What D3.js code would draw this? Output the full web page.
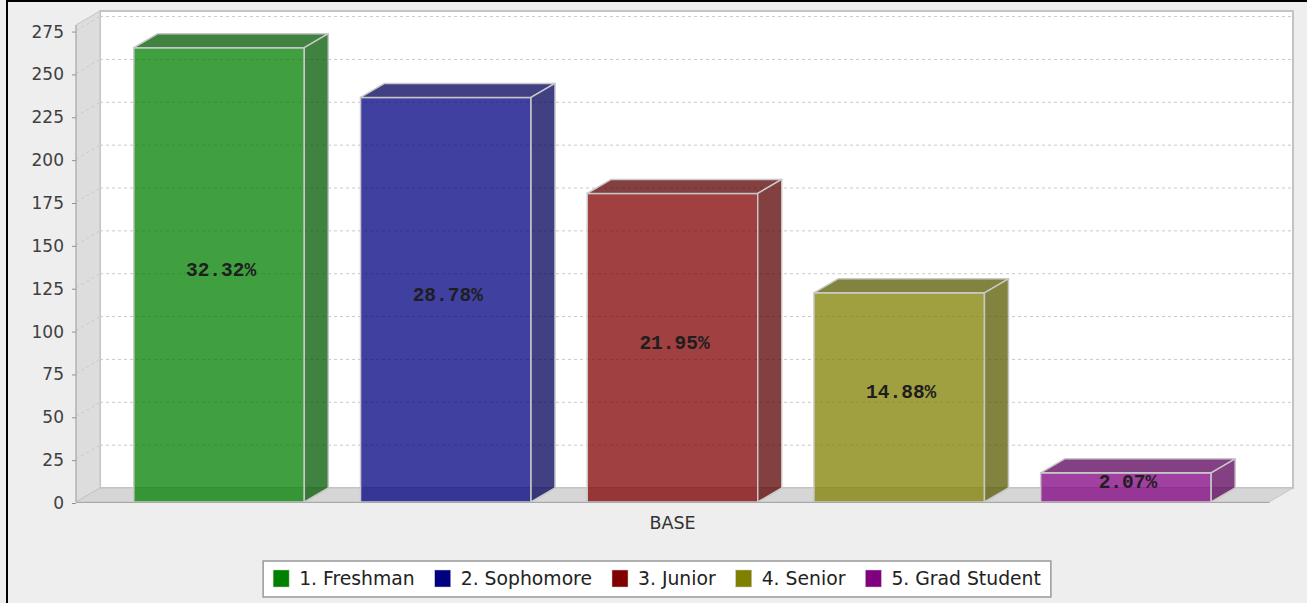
<!DOCTYPE html>
<html><head><meta charset="utf-8">
<script src="https://cdn.jsdelivr.net/npm/d3@7"></script>
<style>body{margin:0;background:#eeeeee;}svg{display:block;}</style>
</head><body>
<svg id="c" width="1307" height="603"></svg>
<script>
const categories = ["BASE"];
const seriesNames = ["1. Freshman", "2. Sophomore", "3. Junior", "4. Senior", "5. Grad Student"];
const seriesValues = [265, 236, 180, 122, 17];
const percentLabels = ["32.32%", "28.78%", "21.95%", "14.88%", "2.07%"];
const seriesColors = ["#008000", "#000080", "#800000", "#808000", "#800080"];
const yTicks = [0, 25, 50, 75, 100, 125, 150, 175, 200, 225, 250, 275];

const svg = d3.select("#c");
const W = 1307, H = 603;
const dx = 24, dy = 14;
const left = 76, right = 1269, bottom = 502;
const yMax = d3.max(seriesValues) * 1.05;

const y = d3.scaleLinear().domain([0, yMax]).range([bottom, bottom - 477]);
const x = d3.scaleBand().domain(seriesNames).range([left, right]).paddingInner(0.248).paddingOuter(0.255);

svg.append("rect").attr("width", W).attr("height", H).attr("fill", "#eeeeee");
svg.append("rect").attr("x", 6).attr("y", 0).attr("width", 2).attr("height", H).attr("fill", "#000");
svg.append("rect").attr("x", 6).attr("y", 0).attr("width", W - 6).attr("height", 2).attr("fill", "#000");

const yTop = y(yMax);
// back wall
svg.append("rect").attr("x", left + dx).attr("y", yTop - dy)
  .attr("width", right - left).attr("height", bottom - yTop)
  .attr("fill", "#ffffff").attr("stroke", "#c4c4c4").attr("stroke-width", 2);
// left wall
svg.append("polygon")
  .attr("points", [[left, yTop], [left + dx, yTop - dy], [left + dx, bottom - dy], [left, bottom]].map(p => p.join(",")).join(" "))
  .attr("fill", "#dddddd").attr("stroke", "#c4c4c4").attr("stroke-width", 1);
// floor
svg.append("polygon")
  .attr("points", [[left, bottom], [left + dx, bottom - dy], [right + dx, bottom - dy], [right, bottom]].map(p => p.join(",")).join(" "))
  .attr("fill", "#d6d6d6").attr("stroke", "#c4c4c4").attr("stroke-width", 1);

// gridlines
const grid = svg.append("g");
yTicks.forEach(v => {
  if (v === 0) return;
  grid.append("line").attr("x1", left + dx).attr("x2", right + dx)
    .attr("y1", y(v) - dy).attr("y2", y(v) - dy)
    .attr("stroke", "#c8c8c8").attr("stroke-width", 1).attr("stroke-dasharray", "3,3");
  grid.append("line").attr("x1", left).attr("x2", left + dx)
    .attr("y1", y(v)).attr("y2", y(v) - dy)
    .attr("stroke", "#c8c8c8").attr("stroke-width", 1).attr("stroke-dasharray", "3,3");
});

function darker(c) {
  const k = d3.rgb(c);
  return d3.rgb(Math.floor(k.r * 0.7), Math.floor(k.g * 0.7), Math.floor(k.b * 0.7)).formatHex();
}

// bars
const bars = svg.append("g");
seriesNames.forEach((s, i) => {
  const x0 = x(s), w = x.bandwidth(), yt = y(seriesValues[i]);
  const col = seriesColors[i], dk = darker(col);
  const g = bars.append("g").attr("fill-opacity", 0.75);
  g.append("rect").attr("x", x0).attr("y", yt).attr("width", w).attr("height", bottom - yt)
    .attr("fill", col).attr("stroke", "#c8c8c8").attr("stroke-width", 1.5);
  g.append("polygon")
    .attr("points", [[x0, yt], [x0 + dx, yt - dy], [x0 + w + dx, yt - dy], [x0 + w, yt]].map(p => p.join(",")).join(" "))
    .attr("fill", dk).attr("stroke", "#c8c8c8").attr("stroke-width", 1.5).attr("stroke-linejoin", "round");
  g.append("polygon")
    .attr("points", [[x0 + w, yt], [x0 + w + dx, yt - dy], [x0 + w + dx, bottom - dy], [x0 + w, bottom]].map(p => p.join(",")).join(" "))
    .attr("fill", dk).attr("stroke", "#c8c8c8").attr("stroke-width", 1.5).attr("stroke-linejoin", "round");
  bars.append("text").attr("x", x0 + w / 2 + 2).attr("y", (yt + bottom) / 2 - 4)
    .attr("text-anchor", "middle").attr("dominant-baseline", "central")
    .attr("font-family", "Liberation Mono, monospace").attr("font-weight", "bold")
    .attr("font-size", 19.5).attr("fill", "#1e1e1e").text(percentLabels[i]);
});

// axes
const yAxis = d3.axisLeft(y).tickValues(yTicks).tickSize(4).tickPadding(8).tickFormat(d3.format("d"));
const ya = svg.append("g").attr("transform", `translate(${left},1)`).call(yAxis);
ya.select(".domain").attr("stroke", "#a8a8a8").attr("d", `M0,${yTop - 1}V${bottom - 1}`);
ya.selectAll(".tick line").attr("stroke", "#909090");
ya.selectAll(".tick text").attr("font-family", "DejaVu Sans, sans-serif").attr("font-size", 17).attr("fill", "#404040");

const cx = d3.scaleBand().domain(categories).range([left, right]);
const xAxis = d3.axisBottom(cx).tickSize(0).tickPadding(15);
const xa = svg.append("g").attr("transform", `translate(0,${bottom})`).call(xAxis);
xa.select(".domain").attr("stroke", "#a8a8a8");
xa.selectAll(".tick text").attr("font-family", "DejaVu Sans, sans-serif").attr("font-size", 17.5).attr("fill", "#333");

// legend
const lg = svg.append("g");
let cur = 0;
seriesNames.forEach((s, i) => {
  const it = lg.append("g");
  it.append("rect").attr("x", cur).attr("y", 0).attr("width", 16).attr("height", 17).attr("fill", seriesColors[i]).attr("stroke", "#c8c8c8").attr("stroke-width", 0.5);
  const t = it.append("text").attr("x", cur + 26).attr("y", 15).attr("font-family", "DejaVu Sans, sans-serif")
    .attr("font-size", 18.8).attr("fill", "#222").text(s);
  const tw = t.node().getComputedTextLength();
  cur += 26 + tw + (i < seriesNames.length - 1 ? 20 : 0);
});
const pad = 10;
const boxW = cur + 2 * pad;
const boxX = 657 - boxW / 2;
lg.insert("rect", ":first-child").attr("x", -pad).attr("y", -9).attr("width", boxW).attr("height", 36)
  .attr("fill", "#fff").attr("stroke", "#999").attr("stroke-width", 1.5);
lg.attr("transform", `translate(${boxX + pad},570)`);
</script>
</body></html>
